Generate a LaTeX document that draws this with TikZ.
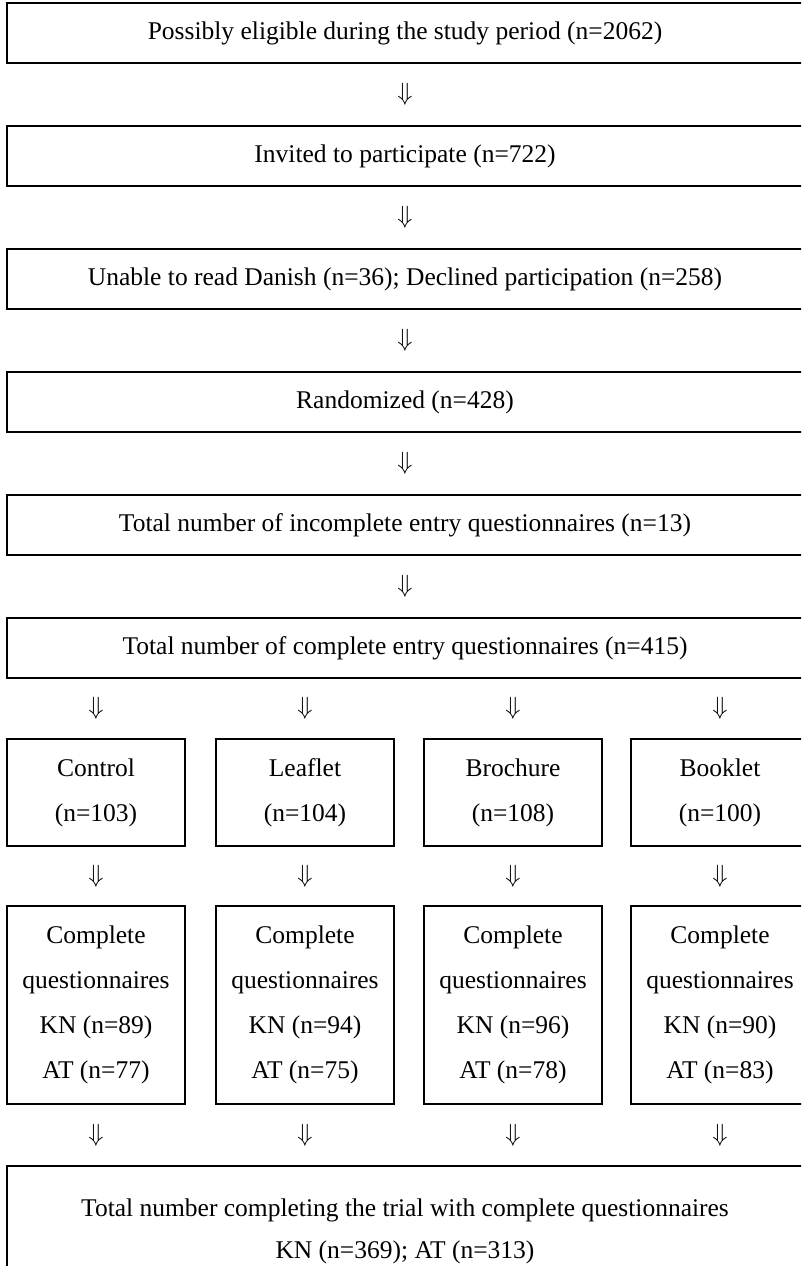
\documentclass[tikz,border=0pt]{standalone}
\usepackage{fontspec}
\setmainfont{Liberation Serif}
\begin{document}
\begin{tikzpicture}[x=1pt,y=-1pt,
  box/.style={draw=black, line width=1.3pt, rectangle, inner sep=0pt, align=center,
    font=\fontsize{25.5}{45}\selectfont},
  wide/.style={box, minimum width=796pt, minimum height=60pt},
  colbox/.style={box, minimum width=178pt, minimum height=107pt},
  qbox/.style={box, minimum width=178pt, minimum height=198pt},
  arr/.style={font=\fontsize{27}{27}\selectfont, inner sep=0pt}]
\useasboundingbox (0,0) rectangle (801,1266);
\clip (0,0) rectangle (801,1266);
\fill[white] (0,0) rectangle (801,1266);

\node[wide] (b1) at (405,33) {Possibly eligible during the study period (n=2062)};
\node[wide] (b2) at (405,156) {Invited to participate (n=722)};
\node[wide] (b3) at (405,279) {Unable to read Danish (n=36); Declined participation (n=258)};
\node[wide] (b4) at (405,402) {Randomized (n=428)};
\node[wide] (b5) at (405,525) {Total number of incomplete entry questionnaires (n=13)};
\node[wide] (b6) at (405,648) {Total number of complete entry questionnaires (n=415)};

\node[colbox] (c1) at (96,792.5) {Control\\(n=103)};
\node[colbox] (c2) at (305,792.5) {Leaflet\\(n=104)};
\node[colbox] (c3) at (513,792.5) {Brochure\\(n=108)};
\node[colbox] (c4) at (720,792.5) {Booklet\\(n=100)};

\node[qbox] (q1) at (96,1005) {Complete\\questionnaires\\KN (n=89)\\AT (n=77)};
\node[qbox] (q2) at (305,1005) {Complete\\questionnaires\\KN (n=94)\\AT (n=75)};
\node[qbox] (q3) at (513,1005) {Complete\\questionnaires\\KN (n=96)\\AT (n=78)};
\node[qbox] (q4) at (720,1005) {Complete\\questionnaires\\KN (n=90)\\AT (n=83)};

\node[box, minimum width=796pt, minimum height=130pt,
  font=\fontsize{25.5}{42}\selectfont] (f) at (405,1231)
  {Total number completing the trial with complete questionnaires\\KN (n=369); AT (n=313)};

\path (b1) -- (b2) node[arr, midway] (a1) {$\Downarrow$};
\path (b2) -- (b3) node[arr, midway] (a2) {$\Downarrow$};
\path (b3) -- (b4) node[arr, midway] (a3) {$\Downarrow$};
\path (b4) -- (b5) node[arr, midway] (a4) {$\Downarrow$};
\path (b5) -- (b6) node[arr, midway] (a5) {$\Downarrow$};
\foreach \i in {1,2,3,4}{
  \path (b6.south -| c\i) -- (c\i.north) node[arr, midway] (ac\i) {$\Downarrow$};
  \path (c\i.south) -- (q\i.north) node[arr, midway] (aq\i) {$\Downarrow$};
  \path (q\i.south) -- (f.north -| q\i) node[arr, midway] (af\i) {$\Downarrow$};
}
\end{tikzpicture}
\end{document}
